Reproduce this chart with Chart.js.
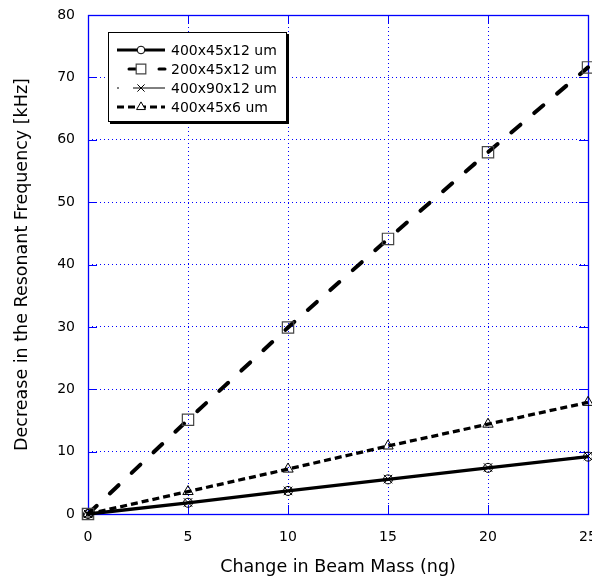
<!DOCTYPE html>
<html>
<head>
<meta charset="utf-8">
<title>Decrease in the Resonant Frequency</title>
<script src="https://cdn.jsdelivr.net/npm/chart.js@4/dist/chart.umd.min.js"></script>
<style>
  html, body { margin: 0; padding: 0; background: #fff; }
</style>
</head>
<body>
<canvas id="grafico" width="592" height="588"></canvas>
<script>
// massa adicionada na viga (ng) e queda da frequencia (kHz) para cada geometria
const massa = [0, 5, 10, 15, 20, 25];
const rotulos = ['400x45x12 um', '200x45x12 um', '400x90x12 um', '400x45x6 um'];
const freq_400x45x12 = [0, 1.8, 3.7, 5.55, 7.4, 9.2];
const freq_200x45x12 = [0, 15.1, 29.9, 44.1, 58.0, 71.6];
const freq_400x90x12 = [0, 1.85, 3.7, 5.6, 7.45, 9.3];
const freq_400x45x6 = [0, 3.6, 7.2, 10.9, 14.4, 17.9];
const passoX = 5;
const passoY = 10;

const azul = '#0000ff';
const fonte = 'DejaVu Sans';

function pares(valores){
  return massa.map((m, i) => ({x: m, y: valores[i]}));
}

// sem folga extra por causa dos rotulos das pontas
function semFolga(scale){
  scale.paddingLeft = 0;
  scale.paddingRight = 0;
  scale.paddingTop = 0;
  scale.paddingBottom = 0;
}

// caixa da legenda: linha de exemplo + marcador + texto
const legenda = {
  id: 'legenda',
  afterDraw(chart){
    const ctx = chart.ctx;
    const a = chart.chartArea;
    const bx = a.left + 20, by = a.top + 17, bw = 179, bh = 90;
    ctx.save();
    ctx.fillStyle = '#000';
    ctx.fillRect(bx + 2, by + 2, bw, bh);
    ctx.fillStyle = '#fff';
    ctx.fillRect(bx, by, bw, bh);
    ctx.strokeStyle = '#000';
    ctx.lineWidth = 1;
    ctx.strokeRect(bx + 0.5, by + 0.5, bw - 1, bh - 1);

    chart.data.datasets.forEach((ds, i) => {
      const yy = by + 18 + i * 19;
      const x0 = bx + 9, x1 = bx + 57, xm = bx + 33;
      ctx.setLineDash(ds.borderDash || []);
      ctx.lineDashOffset = ds.legendaOffset || 0;
      ctx.lineCap = ds.borderCapStyle || 'butt';
      ctx.strokeStyle = '#000';
      ctx.lineWidth = Math.min(ds.borderWidth, 3);
      ctx.beginPath();
      ctx.moveTo(x0, yy);
      ctx.lineTo(x1, yy);
      ctx.stroke();
      ctx.setLineDash([]);
      ctx.lineCap = 'butt';
      ctx.fillStyle = '#fff';
      ctx.strokeStyle = ds.pointBorderColor;
      ctx.lineWidth = ds.pointBorderWidth;
      Chart.helpers.drawPoint(ctx, {
        pointStyle: ds.pointStyle,
        radius: ds.pointRadius * 0.85,
        rotation: 0,
        borderWidth: ds.pointBorderWidth
      }, xm, yy);
      ctx.fillStyle = '#000';
      ctx.font = '14px "' + fonte + '"';
      ctx.textBaseline = 'middle';
      ctx.fillText(ds.label, bx + 63, yy + 1);
    });
    ctx.restore();
  }
};

// moldura azul com marcas de escala para dentro nos quatro lados
const moldura = {
  id: 'moldura',
  beforeDatasetsDraw(chart){
    const {ctx, chartArea: a, scales: {x, y}} = chart;
    const t = 9;
    ctx.save();
    ctx.strokeStyle = azul;
    ctx.lineWidth = 1;
    ctx.beginPath();
    for (const tk of x.ticks){
      const px = Math.round(x.getPixelForValue(tk.value)) + 0.5;
      ctx.moveTo(px, a.bottom); ctx.lineTo(px, a.bottom - t);
      ctx.moveTo(px, a.top); ctx.lineTo(px, a.top + t);
    }
    for (const tk of y.ticks){
      const py = Math.round(y.getPixelForValue(tk.value)) + 0.5;
      ctx.moveTo(a.left, py); ctx.lineTo(a.left + t, py);
      ctx.moveTo(a.right, py); ctx.lineTo(a.right - t, py);
    }
    ctx.stroke();
    ctx.lineWidth = 1.3;
    ctx.strokeRect(a.left + 0.5, a.top + 0.5, a.right - a.left, a.bottom - a.top);
    ctx.restore();
  }
};

const myChart = new Chart(document.getElementById('grafico'), {
  type: 'line',
  data: {
    datasets: [
      {
        label: rotulos[0],
        data: pares(freq_400x45x12),
        borderColor: '#000',
        borderWidth: 3.3,
        pointStyle: 'circle',
        pointRadius: 4.5,
        pointBorderColor: '#000',
        pointBorderWidth: 1,
        pointBackgroundColor: 'rgba(0,0,0,0)',
        clip: false
      },
      {
        label: rotulos[1],
        data: pares(freq_200x45x12),
        borderColor: '#000',
        borderWidth: 4,
        borderDash: [12, 18],
        borderCapStyle: 'round',
        legendaOffset: -12,
        pointStyle: 'rect',
        pointRadius: 8,
        pointBorderColor: '#444',
        pointBorderWidth: 1.2,
        pointBackgroundColor: 'rgba(0,0,0,0)',
        clip: false
      },
      {
        label: rotulos[2],
        data: pares(freq_400x90x12),
        borderColor: '#000',
        borderWidth: 1,
        borderDash: [2, 14, 34, 14],
        pointStyle: 'crossRot',
        pointRadius: 6,
        pointBorderColor: '#000',
        pointBorderWidth: 1,
        pointBackgroundColor: 'rgba(0,0,0,0)',
        clip: false
      },
      {
        label: rotulos[3],
        data: pares(freq_400x45x6),
        borderColor: '#000',
        borderWidth: 3.3,
        borderDash: [7, 4],
        pointStyle: 'triangle',
        pointRadius: 6,
        pointBorderColor: '#000',
        pointBorderWidth: 1,
        pointBackgroundColor: 'rgba(0,0,0,0)',
        clip: false
      }
    ]
  },
  options: {
    responsive: false,
    animation: false,
    events: [],
    layout: { padding: { top: 15, right: 4, left: 0, bottom: 0 }, autoPadding: false },
    plugins: {
      legend: { display: false },
      tooltip: { enabled: false }
    },
    scales: {
      x: {
        type: 'linear',
        min: 0,
        max: 25,
        ticks: { stepSize: passoX, color: '#000', padding: 15, font: { family: fonte, size: 14 } },
        grid: { color: azul, lineWidth: 1, drawTicks: false },
        border: { display: false, dash: [1, 3] },
        title: {
          display: true,
          text: 'Change in Beam Mass (ng)',
          color: '#000',
          font: { family: fonte, size: 17.5 },
          padding: { top: 10, bottom: 10 }
        },
        afterFit(scale){ scale.height = 74; semFolga(scale); }
      },
      y: {
        type: 'linear',
        min: 0,
        max: 80,
        ticks: { stepSize: passoY, color: '#000', padding: 13, font: { family: fonte, size: 14 } },
        grid: { color: azul, lineWidth: 1, drawTicks: false },
        border: { display: false, dash: [1, 3] },
        title: {
          display: true,
          text: 'Decrease in the Resonant Frequency [kHz]',
          color: '#000',
          font: { family: fonte, size: 17.5 },
          padding: { top: 12, bottom: 12 }
        },
        afterFit(scale){ scale.width = 88; semFolga(scale); }
      }
    }
  },
  plugins: [moldura, legenda]
});
</script>
</body>
</html>
